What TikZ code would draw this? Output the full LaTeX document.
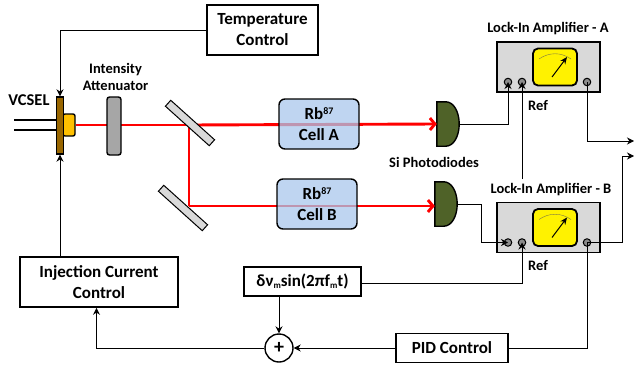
\documentclass[tikz,border=0pt]{standalone}
\usepackage{fontspec}
\usepackage{xcolor}
\setmainfont{Carlito}
\usetikzlibrary{positioning, calc, arrows.meta, shapes.geometric}
\definecolor{platecol}{HTML}{996600}
\definecolor{bumpcol}{HTML}{FFC000}
\definecolor{cellcol}{HTML}{A9C7EC}
\definecolor{pdcol}{HTML}{4F6228}
\newcommand{\lowm}{\raisebox{-2pt}{\fontsize{9}{9}\selectfont m}}
\newcommand{\rbtext}{Rb\raisebox{5.5pt}{\fontsize{10}{10}\selectfont 87}}
\tikzset{
  wire/.style={draw=black,line width=1pt},
  arrowwire/.style={wire,-{Stealth[length=7pt,width=7pt]}},
  beam/.style={draw=red,line width=2.9pt},
  ctrlbox/.style={draw=black,line width=1.6pt,fill=white,align=center,inner sep=0pt,font=\fontsize{17}{21}\selectfont\bfseries},
  smalltext/.style={align=center,inner sep=0pt,font=\fontsize{14.5}{17}\selectfont\bfseries},
  cellbox/.style={draw=black,line width=1.4pt,fill=cellcol,fill opacity=0.75,text opacity=1,rounded corners=6pt,minimum width=80pt,minimum height=50pt,align=center,inner sep=0pt,font=\fontsize{17}{21}\selectfont\bfseries},
  mirror/.style={draw=black,line width=1pt,fill=black!15,minimum width=59pt,minimum height=8pt,inner sep=0pt},
  knob/.style={circle,draw=black,line width=1pt,fill=black!45,minimum size=7.5pt,inner sep=0pt},
}
\begin{document}
\begin{tikzpicture}[x=1pt,y=-1pt]
  \useasboundingbox (0,0) rectangle (634,364);
  % laser
  \node[draw=black,line width=1.4pt,fill=bumpcol,rounded corners=2pt,minimum width=12pt,minimum height=22pt,inner sep=0pt] (bump) at (69,125) {};
  \node[draw=black,line width=1.4pt,fill=platecol,minimum width=7pt,minimum height=57pt,inner sep=0pt] (vcsel) at (60,125.5) {};
  \coordinate (leadA) at (14,120);
  \coordinate (leadB) at (14,130);
  \draw[wire,line width=1.5pt] (leadA) -- (leadA -| vcsel.west);
  \draw[wire,line width=1.5pt] (leadB) -- (leadB -| vcsel.west);
  \node[smalltext,font=\fontsize{16.5}{18}\selectfont\bfseries] (vcsellabel) at (29,100) {VCSEL};
  \node[smalltext] (attenlabel) at (115.5,77) {Intensity\\Attenuator};
  % detectors
  \foreach \pd/\xc/\yc in {A/448/124,B/446/204}{
    \node[minimum width=22pt,minimum height=44pt,inner sep=0pt] (pd\pd) at (\xc,\yc) {};
    \draw[draw=black,line width=1.4pt,fill=pdcol] (pd\pd.north west) -- ++(9,0) .. controls +(8,0) and +(0,-12) .. (pd\pd.east) .. controls +(0,12) and +(8,0) .. ($(pd\pd.south west)+(9,0)$) -- (pd\pd.south west) -- cycle;
  }
  % beams
  \coordinate (split) at (189,125);
  \coordinate (turn) at (189,206);
  \draw[beam] (bump.east) -- (split) -- (turn);
  \draw[beam,-{Straight Barb[length=5pt,width=12pt]}] (split) -- (pdA.west);
  \draw[beam,-{Straight Barb[length=5pt,width=12pt]}] (turn) -- (turn -| pdB.west);
  % mirrors
  \node[mirror,rotate=-42] (mirrorA) at (190,123) {};
  \node[mirror,rotate=-42] (mirrorB) at (183,208) {};
  \node[draw=black,line width=1.4pt,fill=black!35,rounded corners=2.5pt,minimum width=14pt,minimum height=58pt,inner sep=0pt] (atten) at (114,126) {};
  \node[cellbox] (cellA) at (319,124) {\rbtext\\Cell A};
  \node[cellbox] (cellB) at (317,204) {\rbtext\\Cell B};
  \node[smalltext] (pdlabel) at (434,162) {Si Photodiodes};
  % lock-ins
  \foreach \amp/\yc in {A/67,B/227.5}{
    \node[draw=black,line width=1.6pt,fill=black!15,minimum width=103pt,minimum height=50pt,inner sep=0pt] (amp\amp) at (548.5,\yc) {};
    \node[draw=black,line width=1.8pt,fill=yellow,rounded corners=5pt,minimum width=44pt,minimum height=37pt,inner sep=0pt] (screen\amp) at (555,\yc) {};
    \draw[draw=black!60!yellow,line width=0.4pt] ($(screen\amp.center)+(-16,-8)$) .. controls +(10,-7) and +(-10,-7) .. ($(screen\amp.center)+(16,-8)$);
    \draw[-{Stealth[length=7pt,width=6pt]},line width=1pt] ($(screen\amp.center)+(-3,10)$) -- ($(screen\amp.center)+(12,-10)$);
    \node[knob] (knobl\amp) at (508,\yc+15) {};
    \node[knob] (knobr\amp) at (522,\yc+15) {};
    \node[knob] (knobo\amp) at (587,\yc+15) {};
  }
  \node[smalltext] (amplabelA) at (548,29) {Lock-In Amplifier - A};
  \node[smalltext] (amplabelB) at (551,190) {Lock-In Amplifier - B};
  \node[smalltext] (reflabelA) at (538,106) {Ref};
  \node[smalltext] (reflabelB) at (538,266) {Ref};
  % control boxes
  \node[ctrlbox,minimum width=111pt,minimum height=50pt] (tempctrl) at (262.5,30) {Temperature\\Control};
  \node[ctrlbox,minimum width=158pt,minimum height=50pt] (injctrl) at (99,282) {Injection Current\\Control};
  \node[ctrlbox,minimum width=117pt,minimum height=29pt] (modbox) at (302.5,281.5) {δν\lowm{}sin(2πf\lowm{}t)};
  \node[ctrlbox,minimum width=112pt,minimum height=29pt] (pidbox) at (452,348) {PID Control};
  \node[circle,draw=black,line width=1.4pt,fill=white,minimum size=28pt,inner sep=0pt,font=\fontsize{20}{20}\selectfont\bfseries] (plus) at (279,348) {+};
  % connectors
  \coordinate (refend) at (522,179);
  \coordinate (outA) at (634,141);
  \coordinate (outB) at (634,156);
  \coordinate (turnB) at (622,156);
  \draw[arrowwire] (tempctrl.west) -| (vcsel.north);
  \draw[arrowwire] (vcsel.south |- injctrl.north) -- (vcsel.south);
  \draw[arrowwire] (pdA.east) -| (knoblA.center);
  \draw[arrowwire] (refend) -- (knobrA.center);
  \draw[arrowwire] (knoboA.center) |- (outA);
  \draw[arrowwire] (knoboB.center) -| (turnB) -- (outB);
  \draw[arrowwire] (pdB.east) -- ++(24,0) |- (knoblB.center);
  \draw[arrowwire] ([yshift=-1.5pt]modbox.east) -| (knobrB.center);
  \draw[arrowwire] (plus.north |- modbox.south) -- (plus.north);
  \draw[arrowwire] (pidbox.west) -- (plus.east);
  \draw[wire] (pidbox.east) -| (knoboB.center);
  \draw[arrowwire] (plus.west) -| ([xshift=-2.5pt]injctrl.south);
\end{tikzpicture}
\end{document}
